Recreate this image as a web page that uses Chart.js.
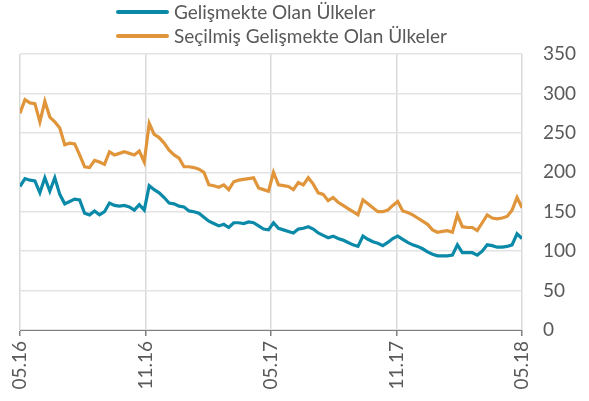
<!DOCTYPE html>
<html lang="tr">
<head>
<meta charset="utf-8">
<script src="https://cdn.jsdelivr.net/npm/chart.js@4"></script>
<style>
  html, body { margin: 0; padding: 0; background: #fff; }
  #wrap { position: relative; width: 589px; height: 401px; }
  #legend { position: absolute; left: 116px; top: 0; font-family: Lato, sans-serif; font-size: 19px; color: #595959; }
  #legend div { height: 24px; line-height: 24px; display: flex; align-items: center; white-space: nowrap; }
  #legend span.sw { display: inline-block; width: 53px; height: 4px; border-radius: 2px; margin-right: 5px; }
</style>
</head>
<body>
<div id="wrap">
  <canvas id="emChart" width="589" height="401"></canvas>
  <div id="legend"></div>
</div>
<script>
// Gelişmekte olan ülkeler - haftalık değerler (05.16 - 05.18)
const tickLabels = ['05.16', '11.16', '05.17', '11.17', '05.18'];
const seriesNames = ['Gelişmekte Olan Ülkeler', 'Seçilmiş Gelişmekte Olan Ülkeler'];
const seriesColors = ['#0a8aa8', '#e0953a'];

const emValues = [
    182, 192, 190, 189, 174, 193, 176, 193, 172, 160,
    163, 166, 165, 148, 146, 151, 146, 150, 161, 158,
    157, 158, 156, 152, 159, 152, 183, 178, 174, 168,
    161, 160, 157, 156, 151, 150, 148, 143, 138, 135,
    132, 134, 130, 136, 136, 135, 137, 136, 132, 128,
    127, 136, 129, 127, 125, 123, 128, 129, 131, 128,
    123, 120, 117, 119, 116, 114, 111, 108, 106, 119,
    115, 112, 110, 107, 111, 116, 119, 115, 111, 108,
    106, 103, 99, 96, 94, 94, 94, 95, 108, 98,
    98, 98, 95, 100, 108, 107, 105, 105, 106, 108,
    122, 116
];

const selectedEmValues = [
    275, 292, 288, 287, 264, 290, 270, 264, 256, 235,
    237, 236, 222, 207, 206, 215, 213, 210, 226, 222,
    224, 226, 224, 222, 227, 213, 262, 248, 244, 237,
    228, 222, 218, 207, 207, 206, 204, 200, 184, 183,
    181, 184, 178, 188, 190, 191, 192, 193, 180, 178,
    176, 200, 184, 183, 182, 178, 187, 184, 193, 185,
    174, 172, 164, 168, 162, 158, 154, 150, 146, 165,
    160, 155, 150, 150, 152, 158, 163, 151, 149, 146,
    142, 138, 134, 127, 124, 125, 126, 124, 146, 131,
    130, 130, 126, 136, 146, 142, 141, 142, 144, 152,
    168, 155
];

const monthsSpan = 24;

function toPoints(values) {
    const step = monthsSpan / (values.length - 1);
    return values.map((v, i) => ({ x: i * step, y: v }));
}

// legend (two left-aligned rows)
const legendEl = document.getElementById('legend');
seriesNames.forEach((name, i) => {
    const row = document.createElement('div');
    const sw = document.createElement('span');
    sw.className = 'sw';
    sw.style.background = seriesColors[i];
    row.appendChild(sw);
    row.appendChild(document.createTextNode(name));
    legendEl.appendChild(row);
});

const fontName = 'Lato';
const ctx = document.getElementById('emChart');
new Chart(ctx.getContext('2d'), {
    type: 'line',
    data: {
        datasets: [{
            label: seriesNames[0],
            data: toPoints(emValues),
            borderColor: seriesColors[0],
            borderWidth: 3.2,
            pointRadius: 0,
            tension: 0
        }, {
            label: seriesNames[1],
            data: toPoints(selectedEmValues),
            borderColor: seriesColors[1],
            borderWidth: 3.2,
            pointRadius: 0,
            tension: 0
        }]
    },
    options: {
        responsive: false,
        animation: false,
        layout: { padding: { top: 54, left: 20, right: 0, bottom: 0 } },
        plugins: {
            legend: { display: false },
            tooltip: { enabled: false }
        },
        scales: {
            x: {
                type: 'linear',
                min: 0,
                max: monthsSpan,
                afterFit: (axis) => { axis.height = 71; },
                ticks: {
                    stepSize: 6,
                    minRotation: 90,
                    maxRotation: 90,
                    padding: 5,
                    color: '#595959',
                    font: { family: fontName, size: 19 },
                    callback: (v) => tickLabels[v / 6]
                },
                grid: { color: '#d9d9d9', lineWidth: 1.5, tickColor: '#7f7f7f', tickLength: 6 },
                border: { color: '#7f7f7f', width: 1 }
            },
            y: {
                position: 'right',
                min: 0,
                max: 350,
                afterFit: (axis) => { axis.width = 67; },
                ticks: {
                    stepSize: 50,
                    padding: 21,
                    color: '#595959',
                    font: { family: fontName, size: 19 }
                },
                grid: { color: '#e3e3e3', lineWidth: 1.5, drawTicks: false },
                border: { display: false }
            }
        }
    }
});
</script>
</body>
</html>
